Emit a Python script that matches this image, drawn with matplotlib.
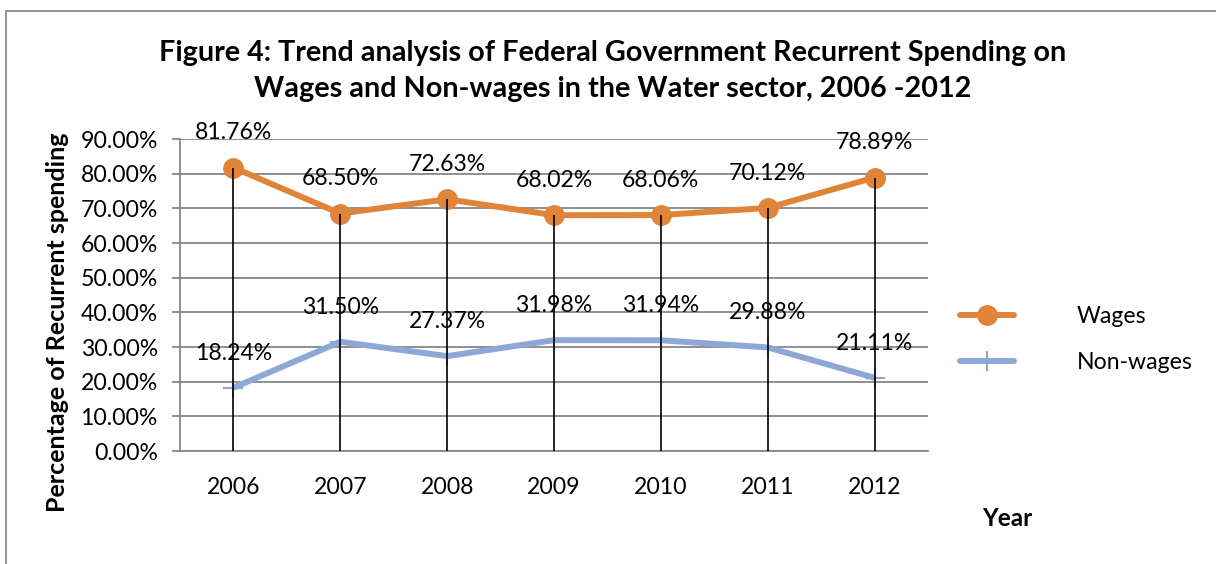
import matplotlib
matplotlib.use("Agg")
import matplotlib.pyplot as plt
from matplotlib.lines import Line2D
from matplotlib.ticker import FuncFormatter, MultipleLocator

years = ["2006", "2007", "2008", "2009", "2010", "2011", "2012"]
wages = [81.76, 68.50, 72.63, 68.02, 68.06, 70.12, 78.89]
non_wages = [18.24, 31.50, 27.37, 31.98, 31.94, 29.88, 21.11]

title = ("Figure 4: Trend analysis of Federal Government Recurrent Spending on\n"
         "Wages and Non-wages in the Water sector, 2006 -2012")

ORANGE = "#E0843A"
BLUE = "#8EA8D6"
GRID = "#878787"
FONT = "Lato"
FS = 16.6

plt.rcParams["font.family"] = [FONT, "DejaVu Sans"]

W, H = 1216, 564
fig = plt.figure(figsize=(W / 100, H / 100), dpi=100)
ax = fig.add_axes([180 / W, 1 - 451 / H, (928 - 180) / W, (451 - 139) / H])

x = list(range(len(years)))

ax.plot(x, wages, color=ORANGE, lw=4.3, marker="o", ms=14, zorder=3,
        solid_capstyle="round")
ax.plot(x, non_wages, color=BLUE, lw=4.3, marker="+", ms=14, mew=1.5,
        zorder=3, solid_capstyle="butt")
ax.vlines(x, 0, wages, color="black", lw=1.2, zorder=4)

ax.set_xlim(-0.5, len(years) - 0.5)
ax.set_ylim(0, 90)
ax.yaxis.set_major_locator(MultipleLocator(10))
ax.yaxis.set_major_formatter(FuncFormatter(lambda v, p: f"{v:.2f}%"))
ax.set_xticks(x)
ax.set_xticklabels(years)
ax.grid(axis="y", color=GRID, lw=1.3)
ax.set_axisbelow(True)
for s in ("top", "right"):
    ax.spines[s].set_visible(False)
for s in ("left", "bottom"):
    ax.spines[s].set_color(GRID)
    ax.spines[s].set_linewidth(1.3)
ax.tick_params(axis="y", length=6, width=1.3, color=GRID, labelsize=FS, pad=10)
ax.tick_params(axis="x", length=0, labelsize=FS, pad=19)

# value labels above each point
for series in (wages, non_wages):
    for xi, v in zip(x, series):
        ax.annotate(f"{v:.2f}%", (xi, v), xytext=(0, 25), textcoords="offset points",
                    ha="center", va="center", fontsize=FS, zorder=5)

fig.text(613 / W, 1 - 71 / H, title, ha="center", va="center",
         fontsize=20.7, fontweight="bold", linespacing=1.45)
fig.text(58 / W, 1 - 322 / H, "Percentage of Recurrent spending", rotation=90,
         ha="center", va="center", fontsize=18, fontweight="bold")
fig.text(1007 / W, 1 - 518 / H, "Year", ha="center", va="center",
         fontsize=17.5, fontweight="bold")

# legend
handles = [
    Line2D([0], [0], color=ORANGE, lw=4.3, marker="o", ms=14, solid_capstyle="round"),
    Line2D([0], [0], color=BLUE, lw=4.3, marker="+", ms=14, mew=1.5, solid_capstyle="round"),
]
fig.legend(handles, ["Wages", "Non-wages"], loc="center left",
           bbox_to_anchor=(960 / W, 1 - 339.5 / H), frameon=False, fontsize=FS,
           handlelength=2.35, handletextpad=2.7, labelspacing=1.1,
           borderpad=0, borderaxespad=0)

# outer chart border (top and left edges)
fig.add_artist(Line2D([6 / W, 6 / W, 1.0], [0.0, 1 - 10.5 / H, 1 - 10.5 / H],
                      transform=fig.transFigure, color="#8C8C8C", lw=1.3))

fig.savefig("out.png", dpi=100, facecolor="white")
